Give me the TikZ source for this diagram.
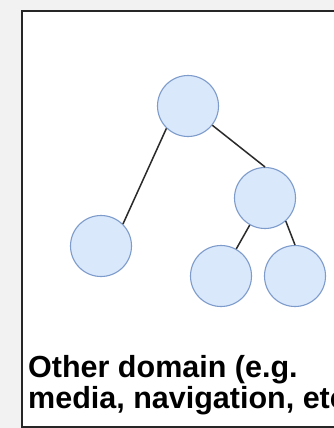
\documentclass[tikz,border=0pt]{standalone}
\usepackage{fontspec}
\setmainfont{Liberation Sans}
\definecolor{bgc}{HTML}{F2F2F2}
\definecolor{nfill}{HTML}{DAE8FC}
\definecolor{nline}{HTML}{7D9CCB}
\definecolor{edgec}{HTML}{2A2A2A}
\begin{document}
\begin{tikzpicture}[x=1pt,y=-1pt,
  tnode/.style={circle,draw=nline,fill=nfill,line width=1.1pt,minimum size=61pt,inner sep=0pt},
  tedge/.style={draw=edgec,line width=1.5pt}]
\useasboundingbox (0,0) rectangle (334,428);
\fill[bgc] (0,0) rectangle (334,428);
\draw[fill=white,line width=2pt,draw=black!85] (21.5,11.5) rectangle (360,426.5);
\node[tnode] (root) at (188,106) {};
\node[tnode] (rm) at (265,198) {};
\node[tnode] (leaf) at (101,246) {};
\node[tnode] (bm) at (221,276) {};
\node[tnode] (br) at (295,276) {};
\draw[tedge] (root.226) -- (leaf.45);
\draw[tedge] (root) -- (rm.north);
\draw[tedge] (rm) -- (bm);
\draw[tedge] (rm.-48) -- (br.north);
\node[anchor=base west,inner sep=0pt,align=left,font=\fontsize{30.5}{31.5}\selectfont\bfseries] (txt) at (28,408.5) {Other domain (e.g.\\media, navigation, etc)};
\end{tikzpicture}
\end{document}
